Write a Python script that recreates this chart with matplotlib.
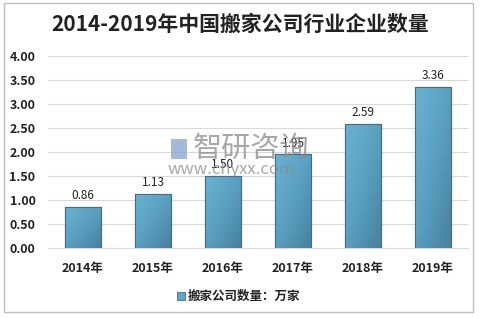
import numpy as np
import matplotlib.pyplot as plt
from matplotlib.patches import Rectangle

plt.rcParams['font.family'] = ['Noto Sans CJK SC', 'DejaVu Sans']

years = ['2014年', '2015年', '2016年', '2017年', '2018年', '2019年']
values = [0.86, 1.13, 1.50, 1.95, 2.59, 3.36]
labels = ['0.86', '1.13', '1.50', '1.95', '2.59', '3.36']

fig = plt.figure(figsize=(4.8, 3.18), dpi=100)
ax = fig.add_axes([48/480, 1-248/318, 420/480, 192/318])

x = np.arange(len(years))
bars = ax.bar(x, values, width=0.52, color='#5fa7c8', edgecolor='#3e6f88', linewidth=0.8, zorder=3)

# gradient fill on each bar
grad = np.linspace(0, 1, 100).reshape(1, -1) + np.linspace(0, 1, 100).reshape(-1, 1)
cmap = plt.matplotlib.colors.LinearSegmentedColormap.from_list('g', ['#6ab3d3', '#5a9fc0', '#47809d'])
for b in bars:
    x0, y0, w, h = b.get_x(), b.get_y(), b.get_width(), b.get_height()
    im = ax.imshow(grad, extent=[x0, x0+w, y0, y0+h], origin='upper', aspect='auto',
                   cmap=cmap, zorder=3.5)
    im.set_clip_path(b)
    ax.add_patch(Rectangle((x0, y0), w, h, fill=False, edgecolor='#3e6f88', linewidth=0.8, zorder=4))

for xi, v, t in zip(x, values, labels):
    ax.text(xi, v + 0.1, t, ha='center', va='bottom', fontsize=8.5, color='#222222', zorder=6)

ax.set_xlim(-0.5, 5.5)
ax.set_ylim(0, 4)
ax.set_yticks(np.arange(0, 4.01, 0.5))
ax.set_yticklabels(['%.2f' % v for v in np.arange(0, 4.01, 0.5)], fontsize=9, fontweight='bold', color='#222222')
ax.set_xticks(x)
ax.set_xticklabels(years, fontsize=9, fontweight='bold', color='#222222')
ax.tick_params(axis='both', length=0)
ax.tick_params(axis='y', pad=9)
ax.tick_params(axis='x', pad=10)
ax.grid(axis='y', color='#d9d9d9', linewidth=0.8, zorder=0)
for s in ['top', 'right', 'left']:
    ax.spines[s].set_visible(False)
ax.spines['bottom'].set_color('#d9d9d9')

# watermark
fig.text(193/480, 1-149/318, '智研咨询', fontsize=21, color='#8a8a8a', alpha=0.75, ha='left', va='center', zorder=10)
fig.text(168/480, 1-170/318, 'www.chyxx.com', fontsize=12, color='#8a8a8a', alpha=0.75, ha='left', va='center', zorder=10)
fig.patches.append(Rectangle((171/480, 1-159/318), 16/480, 20/318, transform=fig.transFigure,
                             facecolor='#8da9cf', alpha=0.8, edgecolor='none', figure=fig))

fig.text(0.5, 0.925, '2014-2019年中国搬家公司行业企业数量', fontsize=15, fontweight='bold',
         color='#222222', ha='center', va='center')

# legend
fig.patches.append(Rectangle((177/480, 1-300/318), 8/480, 8/318, transform=fig.transFigure,
                             facecolor='#5fa7c8', edgecolor='#3e6f88', linewidth=0.6, figure=fig))
fig.text(188/480, 1-296/318, '搬家公司数量：万家', fontsize=9, fontweight='bold', color='#222222',
         ha='left', va='center')

# outer border
fig.patches.append(Rectangle((4/480, 1-312/318), 469/480, 309/318, transform=fig.transFigure,
                             fill=False, edgecolor='#bfbfbf', linewidth=1, figure=fig))

fig.savefig('out.png', dpi=100)
